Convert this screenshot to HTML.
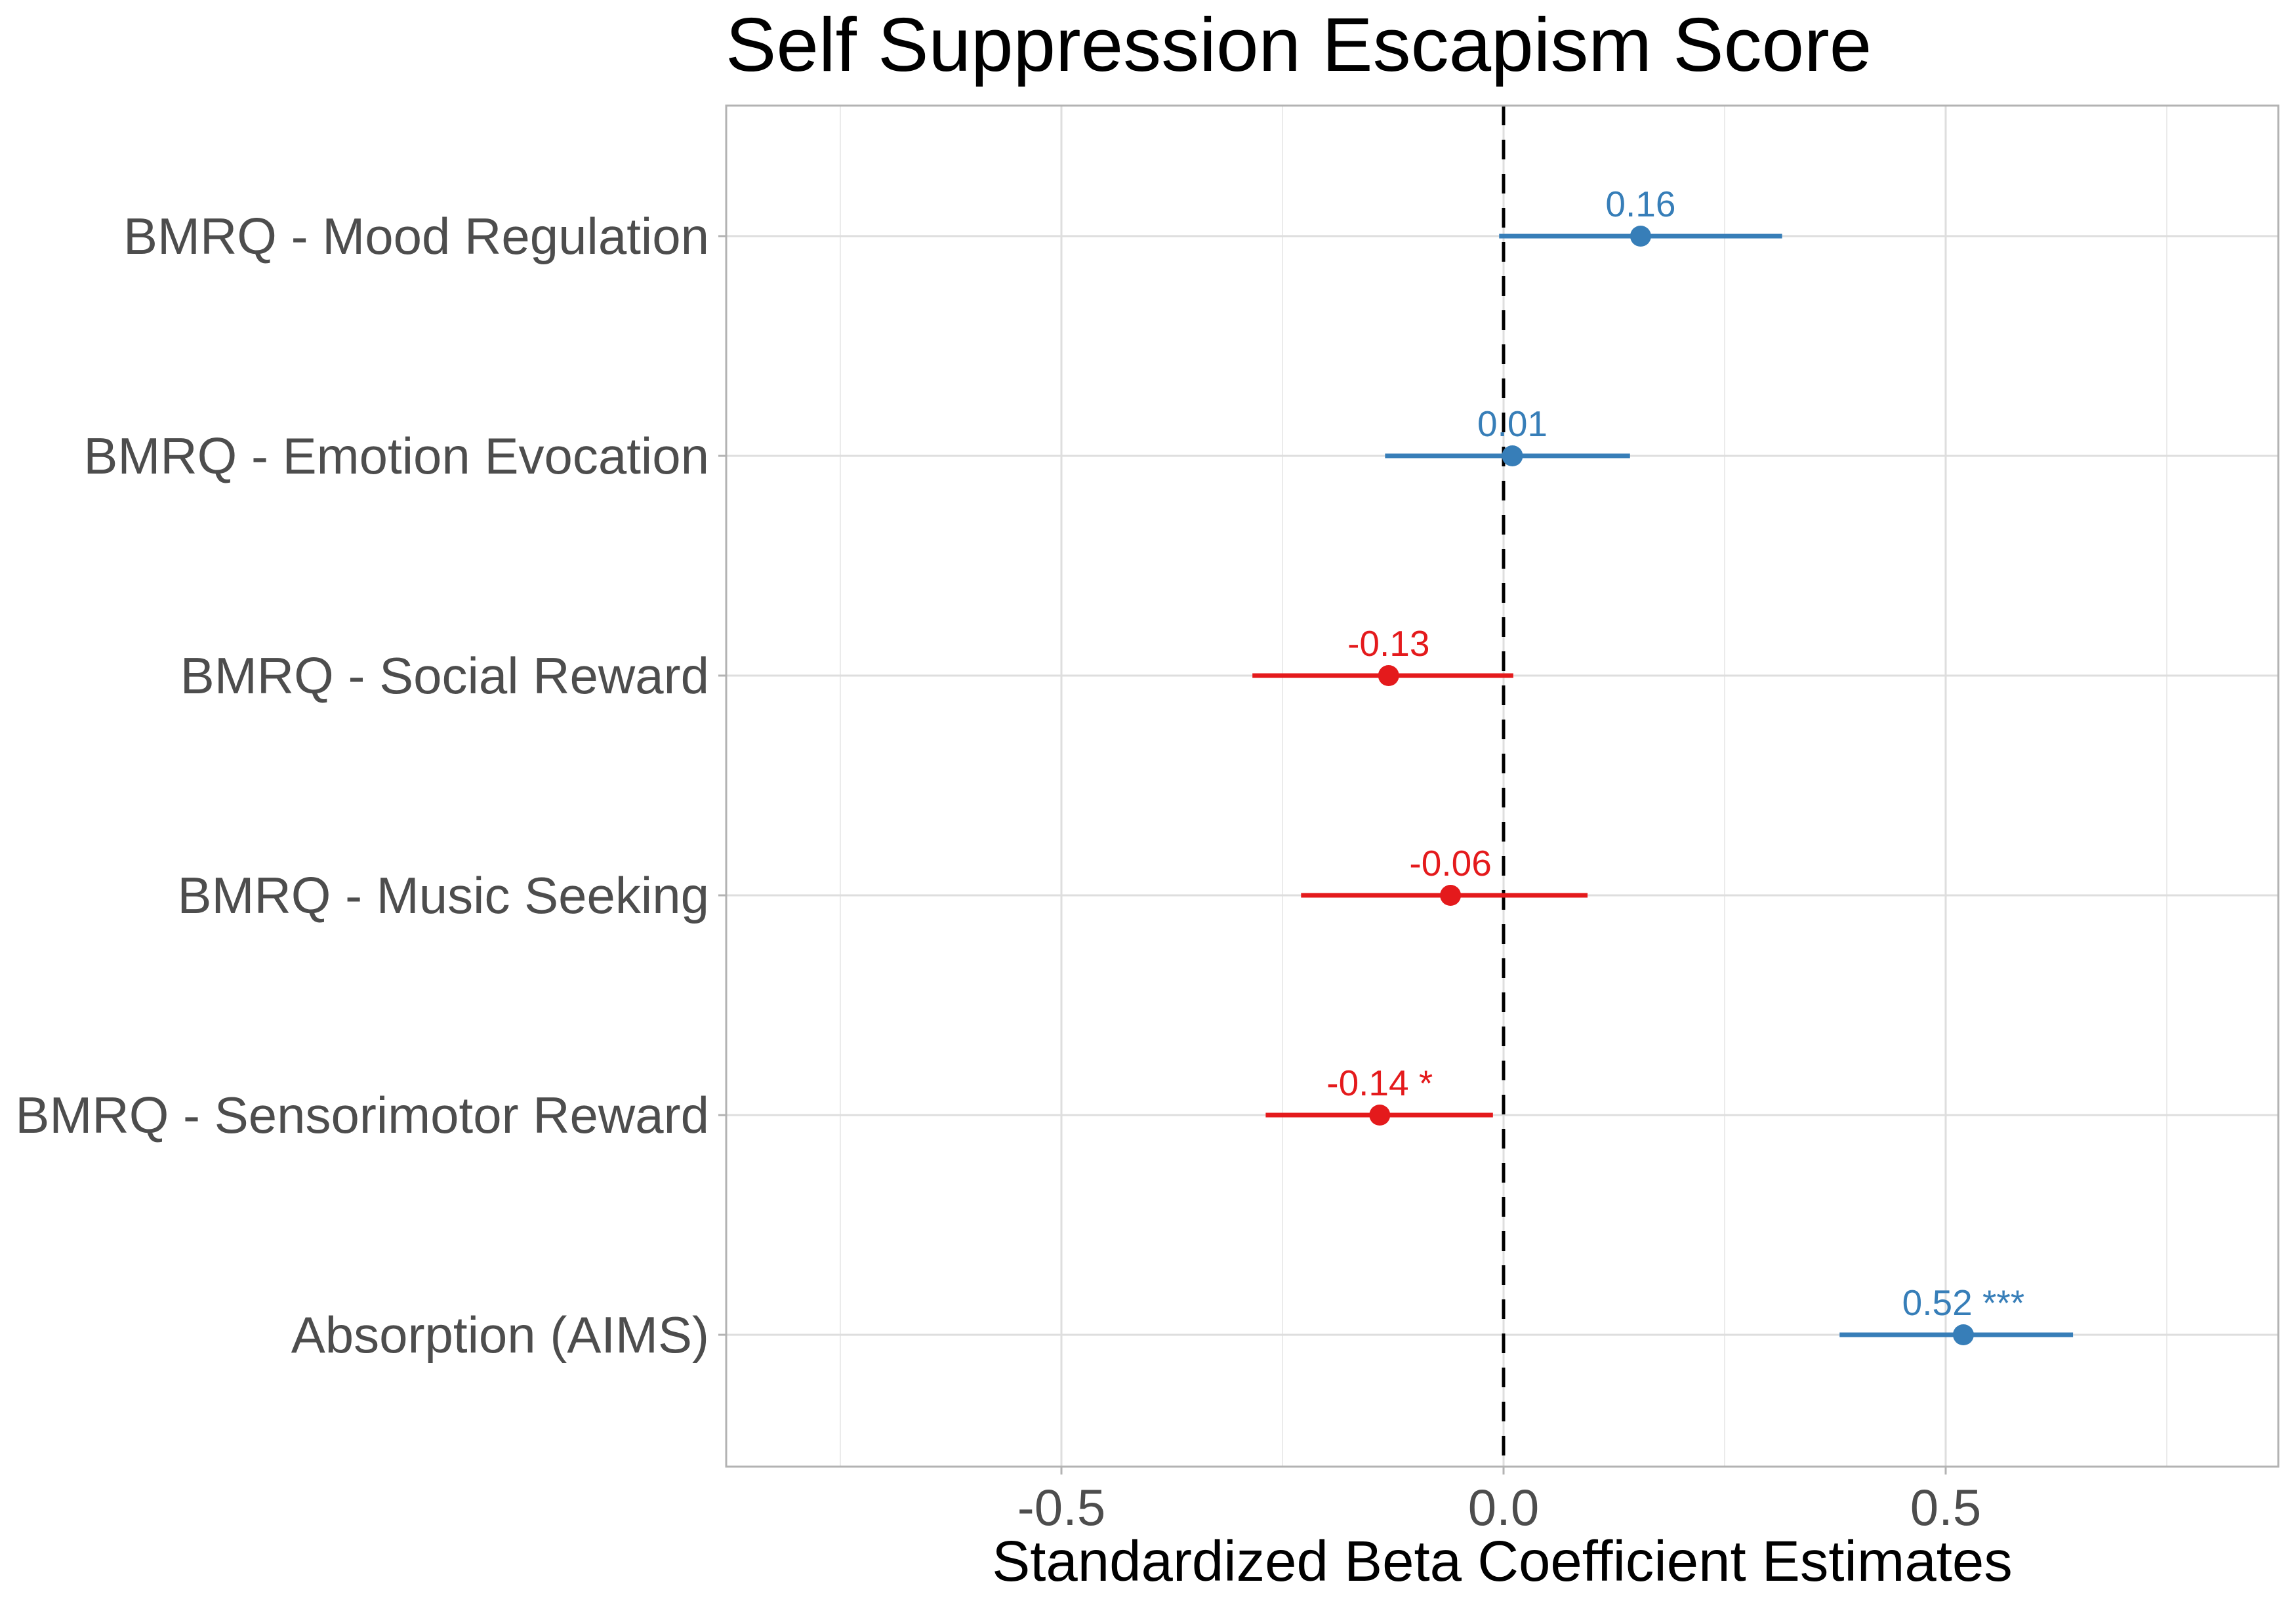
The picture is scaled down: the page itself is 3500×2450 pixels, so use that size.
<!DOCTYPE html>
<html><head><meta charset="utf-8"><style>
html,body{margin:0;padding:0;background:#fff;}
svg{display:block;font-family:"Liberation Sans",Arial,sans-serif;}
</style></head><body>
<svg id="chart" width="3500" height="2450" viewBox="0 0 3500 2450" xmlns="http://www.w3.org/2000/svg">
<text x="1106" y="108" font-size="116" fill="#000">Self Suppression Escapism Score</text>
<g id="grid"></g>
<g id="marks"></g>
<rect x="1107" y="161" width="2366" height="2075" fill="none" stroke="#B3B3B3" stroke-width="3"/>
<text x="2290" y="2410" font-size="87" text-anchor="middle" fill="#000">Standardized Beta Coefficient Estimates</text>
</svg>
<script>
const categories = ["BMRQ - Mood Regulation","BMRQ - Emotion Evocation","BMRQ - Social Reward","BMRQ - Music Seeking","BMRQ - Sensorimotor Reward","Absorption (AIMS)"];
const estimates = [0.155, 0.01, -0.13, -0.06, -0.14, 0.52];
const lower = [-0.005, -0.134, -0.284, -0.229, -0.269, 0.38];
const upper = [0.315, 0.143, 0.011, 0.095, -0.012, 0.644];
const valueLabels = ["0.16","0.01","-0.13","-0.06","-0.14 *","0.52 ***"];
const xTicks = [-0.5, 0, 0.5];
const xTickLabels = ["-0.5","0.0","0.5"];
const xMinor = [-0.75, -0.25, 0.25, 0.75];

const NS="http://www.w3.org/2000/svg";
const L=1107,R=3473,T=161,B=2236;
const x0=2292, k=1348;
function xs(v){return x0+v*k;}
function ys(i){return 360+i*335;}
function mk(tag,attrs,parent){const e=document.createElementNS(NS,tag);for(const a in attrs)e.setAttribute(a,attrs[a]);parent.appendChild(e);return e;}
const grid=document.getElementById('grid'), marks=document.getElementById('marks'), svg=document.getElementById('chart');

xMinor.forEach(v=>{
  const l=mk('line',{x1:xs(v),x2:xs(v),y1:T,y2:B,stroke:'#EBEBEB','stroke-width':2},grid);
  
  
});
xTicks.forEach((v,i)=>{
  const l=mk('line',{x1:xs(v),x2:xs(v),y1:T,y2:B,stroke:'#DEDEDE','stroke-width':3},grid);
  
  
  const t=mk('line',{x1:xs(v),x2:xs(v),y1:B,y2:B+12,stroke:'#B3B3B3','stroke-width':3},grid);
  
  
  const tx=mk('text',{x:xs(v),y:2325,'font-size':78,'text-anchor':'middle',fill:'#4D4D4D'},svg);
  tx.textContent=xTickLabels[i];
  
  
});
categories.forEach((c,i)=>{
  const y=ys(i);
  const g=mk('line',{x1:L,x2:R,y1:y,y2:y,stroke:'#DEDEDE','stroke-width':3},grid);
  
  
  const t=mk('line',{x1:L-12,x2:L,y1:y,y2:y,stroke:'#B3B3B3','stroke-width':3},grid);
  
  
  const lab=mk('text',{x:1081,y:y+27,'font-size':78,'text-anchor':'end',fill:'#4D4D4D'},svg);
  lab.textContent=c;
  
  
});
const zl=mk('line',{x1:xs(0),x2:xs(0),y1:T,y2:B,stroke:'#000','stroke-width':5,'stroke-dasharray':'30 22'},marks);


categories.forEach((c,i)=>{
  const y=ys(i), col=estimates[i]>=0?'#377EB8':'#E41A1C';
  const ci=mk('line',{x1:xs(lower[i]),x2:xs(upper[i]),y1:y,y2:y,stroke:col,'stroke-width':7},marks);
  
  
  const p=mk('circle',{cx:xs(estimates[i]),cy:y,r:16,fill:col},marks);
  
  
  const vt=mk('text',{x:xs(estimates[i]),y:y-30,'font-size':55,'text-anchor':'middle',fill:col},marks);
  vt.textContent=valueLabels[i];
  
  
});
</script>
</body></html>
